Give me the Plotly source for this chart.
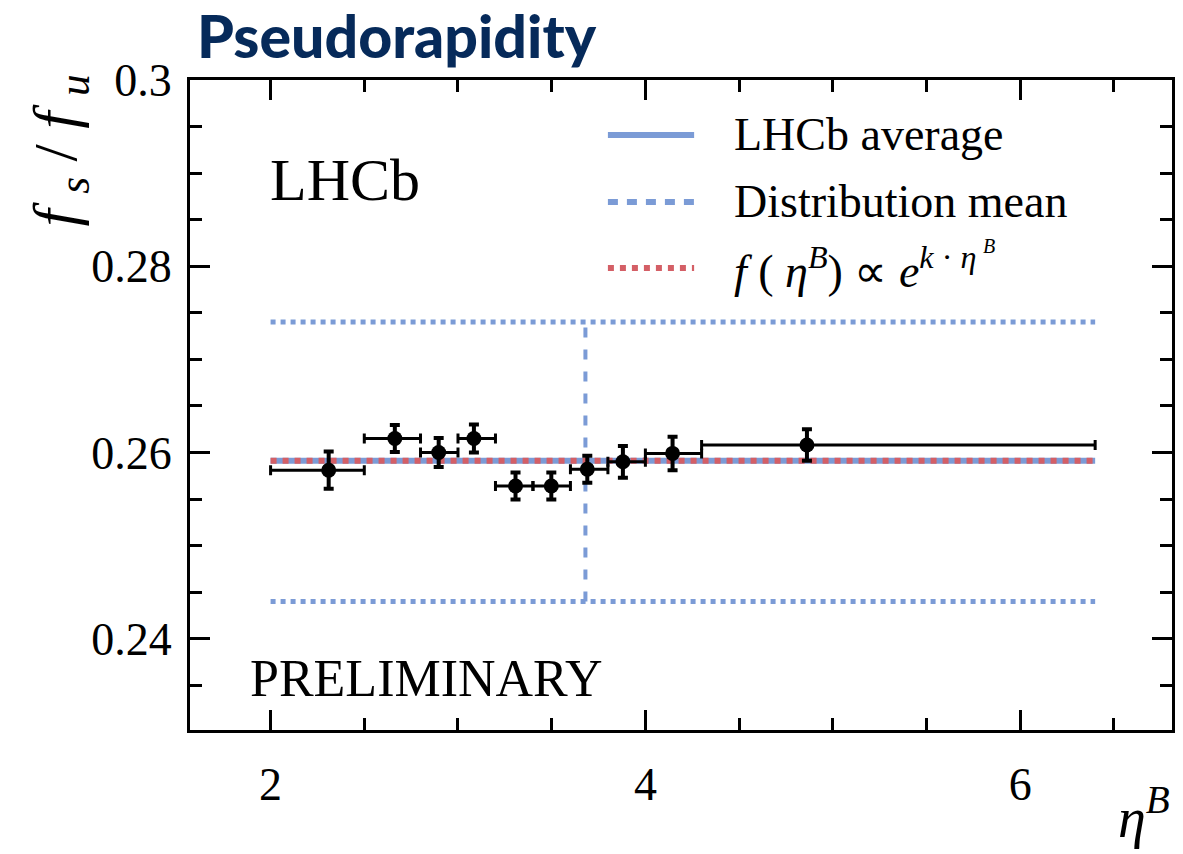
import plotly.graph_objects as go

# f_s/f_u measured in bins of B-meson pseudorapidity
eta_lo = [2.0, 2.5, 2.8, 3.0, 3.2, 3.4, 3.6, 3.8, 4.0, 4.3]
eta_hi = [2.5, 2.8, 3.0, 3.2, 3.4, 3.6, 3.8, 4.0, 4.3, 6.4]
eta_c = [2.31, 2.663, 2.897, 3.085, 3.307, 3.498, 3.69, 3.88, 4.145, 4.862]
fs_fu = [0.2581, 0.2615, 0.2600, 0.2615, 0.2564, 0.2564, 0.2582, 0.2590, 0.2599, 0.2608]
fs_fu_err = [0.0020, 0.00145, 0.00155, 0.0015, 0.00145, 0.00145, 0.00145, 0.0017, 0.0018, 0.0017]

# LHCb average with its uncertainty band, and mean of the eta distribution
avg = 0.2591
band_hi = 0.274
band_lo = 0.244
eta_range = [2.0, 6.4]
eta_mean = 3.68

BLUE = "#7b9bd6"
RED = "#d45f66"
SERIF = "Liberation Serif, Times New Roman, serif"

fig = go.Figure()

# uncertainty band edges (dotted)
for yv in (band_hi, band_lo):
    fig.add_trace(go.Scatter(x=eta_range, y=[yv, yv], mode="lines",
                             line=dict(color=BLUE, width=5, dash="5px,5px"),
                             showlegend=False, hoverinfo="skip"))

# distribution mean (vertical dashed)
fig.add_trace(go.Scatter(x=[eta_mean, eta_mean], y=[band_lo, band_hi], mode="lines",
                         line=dict(color=BLUE, width=4, dash="10px,12px"),
                         showlegend=False, hoverinfo="skip"))

# LHCb average (solid) and exponential fit (dotted, on top)
fig.add_trace(go.Scatter(x=eta_range, y=[avg, avg], mode="lines",
                         line=dict(color=BLUE, width=6),
                         showlegend=False, hoverinfo="skip"))
fig.add_trace(go.Scatter(x=eta_range, y=[avg, avg], mode="lines",
                         line=dict(color=RED, width=6, dash="6px,6px"),
                         showlegend=False, hoverinfo="skip"))

# data points
fig.add_trace(go.Scatter(
    x=eta_c, y=fs_fu, mode="markers",
    marker=dict(color="black", size=15),
    error_y=dict(type="data", array=fs_fu_err, color="black", thickness=4, width=5),
    error_x=dict(type="data", symmetric=False,
                 array=[h - c for h, c in zip(eta_hi, eta_c)],
                 arrayminus=[c - l for c, l in zip(eta_c, eta_lo)],
                 color="black", thickness=3, width=5),
    showlegend=False))

# legend drawn by hand
leg_x0, leg_x1 = 3.8, 4.26
leg_text_x = 4.46
leg_rows = [
    (0.2941, dict(color=BLUE, width=6), "LHCb average"),
    (0.2869, dict(color=BLUE, width=6, dash="10px,9px"), "Distribution mean"),
    (0.2798, dict(color=RED, width=6, dash="6px,6px"),
     "<i>f</i> ( <i>η</i><sup><i>B</i></sup>) ∝ <i>e</i><sup><i>k</i> · <i>η</i></sup>"),
]
for yv, ln, txt in leg_rows:
    fig.add_trace(go.Scatter(x=[leg_x0, leg_x1], y=[yv, yv], mode="lines", line=ln,
                             showlegend=False, hoverinfo="skip"))
    fig.add_annotation(x=leg_text_x, y=yv, xref="x", yref="y", text=txt,
                       showarrow=False, xanchor="left", yanchor="middle",
                       font=dict(family=SERIF, size=46, color="black"))
# superscript B on the exponent's eta
fig.add_annotation(x=5.79, y=0.2822, xref="x", yref="y", text="<i>B</i>",
                   showarrow=False, xanchor="left", yanchor="middle",
                   font=dict(family=SERIF, size=20, color="black"))

fig.add_annotation(x=1.985, y=0.2893, xref="x", yref="y", text="LHCb", showarrow=False,
                   xanchor="left", yanchor="middle",
                   font=dict(family=SERIF, size=60, color="black"))
fig.add_annotation(x=1.88, y=0.2357, xref="x", yref="y", text="PRELIMINARY",
                   showarrow=False, xanchor="left", yanchor="middle",
                   font=dict(family=SERIF, size=52, color="black"))

fig.add_annotation(x=0.005, y=1.068, xref="paper", yref="paper", text="Pseudorapidity",
                   showarrow=False, xanchor="left", yanchor="middle",
                   font=dict(family="Lato, Open Sans, sans-serif", size=59, weight=900,
                             color="#062a5a"))

fig.add_annotation(x=-0.133, y=1.012, xref="paper", yref="paper",
                   text="<i>f</i> <sub><i>s</i></sub> / <i>f</i> <sub><i>u</i></sub>",
                   textangle=-90,
                   showarrow=False, xanchor="center", yanchor="top",
                   font=dict(family=SERIF, size=62, color="black"))
fig.add_annotation(x=1.0, y=-0.128, xref="paper", yref="paper",
                   text="<i>η</i><sup><i>B</i></sup>",
                   showarrow=False, xanchor="right", yanchor="middle",
                   font=dict(family=SERIF, size=56, color="black"))

axis_common = dict(showline=True, linecolor="black", linewidth=3, mirror="allticks",
                   ticks="inside", tickcolor="black", tickwidth=3, ticklen=20,
                   showgrid=False, zeroline=False,
                   tickfont=dict(family=SERIF, size=46, color="black"))

fig.update_xaxes(range=[1.57, 6.81], tickvals=[2, 4, 6], ticktext=["2", "4", "6"],
                 minor=dict(ticks="inside", ticklen=12, tickwidth=3, tickcolor="black",
                            dtick=0.5, tick0=0),
                 ticklabelstandoff=12, **axis_common)
fig.update_yaxes(range=[0.2302, 0.3], tickvals=[0.24, 0.26, 0.28, 0.3],
                 ticktext=["0.24", "0.26", "0.28", "0.3"],
                 minor=dict(ticks="inside", ticklen=12, tickwidth=3, tickcolor="black",
                            dtick=0.005, tick0=0),
                 ticklabelstandoff=6, **axis_common)

fig.update_layout(width=1183, height=854, margin=dict(l=190, r=8, t=80, b=124),
                  plot_bgcolor="white", paper_bgcolor="white", showlegend=False)

fig.write_html("out.html")
